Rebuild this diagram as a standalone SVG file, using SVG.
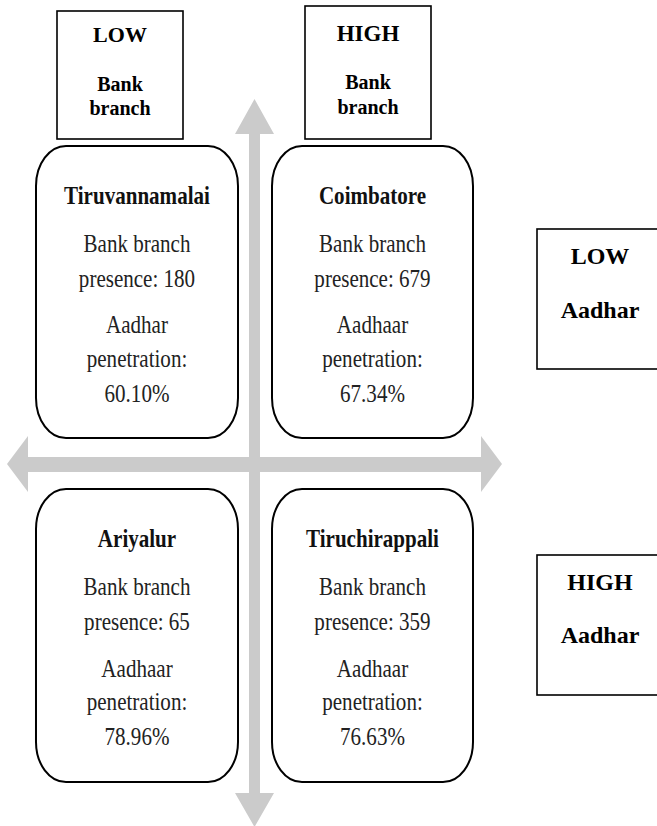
<svg xmlns="http://www.w3.org/2000/svg" width="657" height="826" viewBox="0 0 657 826">
<style>
.card{fill:#fff;stroke:#000;stroke-width:2}
.lbl{fill:#fff;stroke:#000;stroke-width:1.6}
.ax{fill:#cbcbcb}
text{font-family:"Liberation Serif","Times New Roman",serif;text-anchor:middle}
.t{font-size:26px;font-weight:bold;fill:#111}
.b{font-size:26px;fill:#222}
.lb{font-weight:bold;fill:#000}
</style>
<g id="connectors">
<polygon class="ax" points="249,134 235,134 254.5,99 274,134 260,134 260,793 274,793 254.5,827 235,793 249,793"/>
<polygon class="ax" points="28,457 28,436 7,464 28,492 28,472 481,472 481,492 502,464 481,436 481,457"/>
</g>
<g id="lowBank">
<rect class="lbl" x="57" y="11" width="126" height="128"/>
<text class="lb" x="120" y="42" font-size="22">LOW</text>
<text class="lb" x="120" y="91" font-size="20">Bank</text>
<text class="lb" x="120" y="115" font-size="20">branch</text>
</g>
<g id="highBank">
<rect class="lbl" x="305" y="6" width="126" height="133"/>
<text class="lb" x="368" y="41" font-size="23">HIGH</text>
<text class="lb" x="368" y="89" font-size="20">Bank</text>
<text class="lb" x="368" y="114" font-size="20">branch</text>
</g>
<g id="lowAadhar">
<rect class="lbl" x="537" y="229" width="130" height="140"/>
<text class="lb" x="600" y="264" font-size="24">LOW</text>
<text class="lb" x="600" y="318" font-size="24">Aadhar</text>
</g>
<g id="highAadhar">
<rect class="lbl" x="537" y="555" width="130" height="140"/>
<text class="lb" x="600" y="590" font-size="24">HIGH</text>
<text class="lb" x="600" y="643" font-size="24">Aadhar</text>
</g>
<g id="tiruvannamalai">
<rect class="card" x="36" y="146" width="202" height="292" rx="30" ry="40"/>
<g transform="translate(137 0) scale(0.81 1)">
<text class="t" x="0" y="204">Tiruvannamalai</text>
<text class="b" x="0" y="252">Bank branch</text>
<text class="b" x="0" y="287">presence: 180</text>
<text class="b" x="0" y="333">Aadhar</text>
<text class="b" x="0" y="367">penetration:</text>
<text class="b" x="0" y="402">60.10%</text>
</g>
</g>
<g id="coimbatore">
<rect class="card" x="272" y="146" width="201" height="292" rx="30" ry="40"/>
<g transform="translate(372.5 0) scale(0.81 1)">
<text class="t" x="0" y="204">Coimbatore</text>
<text class="b" x="0" y="252">Bank branch</text>
<text class="b" x="0" y="287">presence: 679</text>
<text class="b" x="0" y="333">Aadhaar</text>
<text class="b" x="0" y="367">penetration:</text>
<text class="b" x="0" y="402">67.34%</text>
</g>
</g>
<g id="ariyalur">
<rect class="card" x="36" y="489" width="202" height="293" rx="30" ry="40"/>
<g transform="translate(137 0) scale(0.81 1)">
<text class="t" x="0" y="547">Ariyalur</text>
<text class="b" x="0" y="595">Bank branch</text>
<text class="b" x="0" y="630">presence: 65</text>
<text class="b" x="0" y="677">Aadhaar</text>
<text class="b" x="0" y="710">penetration:</text>
<text class="b" x="0" y="745">78.96%</text>
</g>
</g>
<g id="tiruchirappali">
<rect class="card" x="272" y="489" width="201" height="293" rx="30" ry="40"/>
<g transform="translate(372.5 0) scale(0.81 1)">
<text class="t" x="0" y="547">Tiruchirappali</text>
<text class="b" x="0" y="595">Bank branch</text>
<text class="b" x="0" y="630">presence: 359</text>
<text class="b" x="0" y="677">Aadhaar</text>
<text class="b" x="0" y="710">penetration:</text>
<text class="b" x="0" y="745">76.63%</text>
</g>
</g>
</svg>
